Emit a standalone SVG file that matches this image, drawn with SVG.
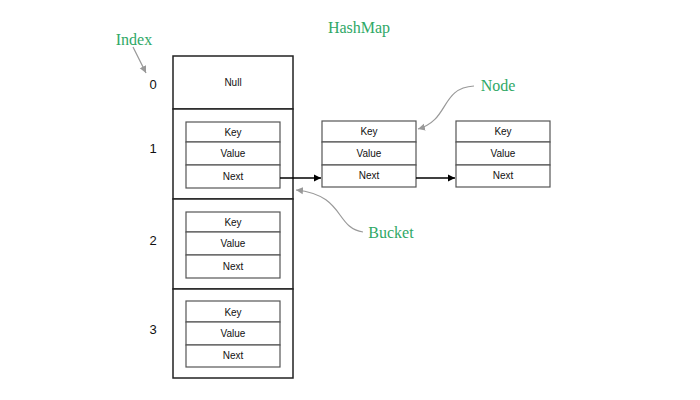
<svg xmlns="http://www.w3.org/2000/svg" width="700" height="400" viewBox="0 0 700 400">
<defs>
<marker id="ab" markerWidth="8" markerHeight="8" refX="7" refY="4" orient="auto" markerUnits="userSpaceOnUse"><path d="M0,0.5 L7,4 L0,7.5 z" fill="#000"/></marker>
<marker id="ag" markerWidth="8" markerHeight="8" refX="7" refY="4" orient="auto" markerUnits="userSpaceOnUse"><path d="M0,0.5 L7,4 L0,7.5 z" fill="#999"/></marker>
<style>
.box{fill:#fff;stroke:#222;stroke-width:1.5}
.cell{fill:#fff;stroke:#555;stroke-width:1.2}
.t{font-family:"Liberation Sans",Arial,sans-serif;font-size:10px;fill:#111;text-anchor:middle}
.n{font-family:"Liberation Sans",Arial,sans-serif;font-size:13px;fill:#111;text-anchor:middle}
.g{font-family:"Liberation Serif","Times New Roman",serif;font-size:16px;fill:#2fa866;text-anchor:middle}
.c{stroke:#000;stroke-width:1.5;fill:none}
.gc{stroke:#999;stroke-width:1.2;fill:none}
</style>
</defs>
<rect width="700" height="400" fill="#fff"/>
<text class="g" x="359" y="33">HashMap</text>
<text class="g" x="134" y="45">Index</text>
<text class="g" x="498" y="91">Node</text>
<text class="g" x="391" y="238">Bucket</text>
<g id="indices">
<text class="n" x="153" y="89">0</text>
<text class="n" x="153" y="153">1</text>
<text class="n" x="153" y="245">2</text>
<text class="n" x="153" y="334">3</text>
</g>
<g id="bucket0"><rect class="box" x="173" y="56" width="120" height="53"/><text class="t" x="233" y="86">Null</text></g>
<g id="bucket1"><rect class="box" x="173" y="109" width="120" height="90"/>
<rect class="cell" x="186" y="122" width="94" height="20"/><rect class="cell" x="186" y="142" width="94" height="23"/><rect class="cell" x="186" y="165" width="94" height="23"/>
<text class="t" x="233" y="136">Key</text><text class="t" x="233" y="157">Value</text><text class="t" x="233" y="180">Next</text></g>
<g id="bucket2"><rect class="box" x="173" y="199" width="120" height="90"/>
<rect class="cell" x="186" y="212" width="94" height="20"/><rect class="cell" x="186" y="232" width="94" height="23"/><rect class="cell" x="186" y="255" width="94" height="23"/>
<text class="t" x="233" y="226">Key</text><text class="t" x="233" y="247">Value</text><text class="t" x="233" y="270">Next</text></g>
<g id="bucket3"><rect class="box" x="173" y="289" width="120" height="89"/>
<rect class="cell" x="186" y="301" width="94" height="21"/><rect class="cell" x="186" y="322" width="94" height="23"/><rect class="cell" x="186" y="345" width="94" height="22"/>
<text class="t" x="233" y="316">Key</text><text class="t" x="233" y="337">Value</text><text class="t" x="233" y="359">Next</text></g>
<g id="node2">
<rect class="cell" x="322" y="121" width="94" height="21"/><rect class="cell" x="322" y="142" width="94" height="23"/><rect class="cell" x="322" y="165" width="94" height="22"/>
<text class="t" x="369" y="135">Key</text><text class="t" x="369" y="157">Value</text><text class="t" x="369" y="179">Next</text></g>
<g id="node3">
<rect class="cell" x="456" y="121" width="94" height="21"/><rect class="cell" x="456" y="142" width="94" height="23"/><rect class="cell" x="456" y="165" width="94" height="22"/>
<text class="t" x="503" y="135">Key</text><text class="t" x="503" y="157">Value</text><text class="t" x="503" y="179">Next</text></g>
<g id="connectors">
<path class="c" d="M280,178 L321,178" marker-end="url(#ab)"/>
<path class="c" d="M416,178 L455,178" marker-end="url(#ab)"/>
<path class="gc" d="M133,47 L146,73" marker-end="url(#ag)"/>
<path class="gc" d="M474,86 C440,88 450,120 418,129" marker-end="url(#ag)"/>
<path class="gc" d="M363,232 C335,228 345,195 296,190" marker-end="url(#ag)"/>
</g>
</svg>
